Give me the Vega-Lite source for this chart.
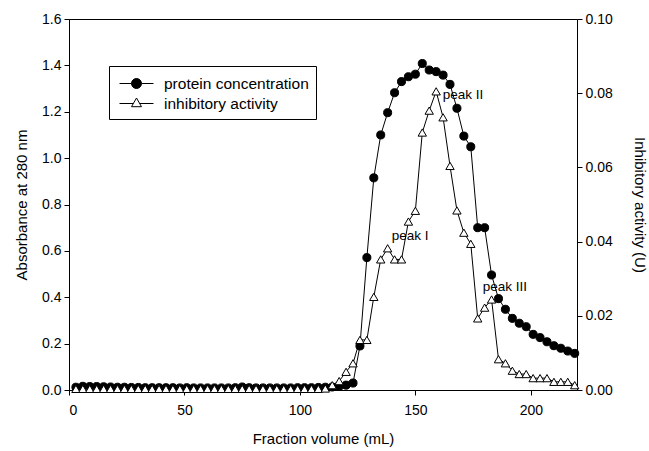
{
  "$schema": "https://vega.github.io/schema/vega-lite/v6.json",
  "autosize": "none",
  "width": 508,
  "height": 371,
  "padding": {"left": 69, "top": 19, "right": 72, "bottom": 61},
  "background": "white",
  "config": {
    "font": "Liberation Sans",
    "view": {"stroke": "black", "strokeWidth": 1},
    "axis": {"grid": false, "domainColor": "black", "tickColor": "black", "labelColor": "black", "titleColor": "black", "labelFontSize": 14, "titleFontSize": 15, "titleFontWeight": "normal", "tickSize": 5, "labelFont": "Liberation Sans", "titleFont": "Liberation Sans"}
  },
  "datasets": {
    "chrom": [
      {"vol": 3, "protein concentration": 0.012, "inhibitory activity": 0.0003},
      {"vol": 6, "protein concentration": 0.016, "inhibitory activity": 0.0003},
      {"vol": 9, "protein concentration": 0.015, "inhibitory activity": 0.0003},
      {"vol": 12, "protein concentration": 0.015, "inhibitory activity": 0.0003},
      {"vol": 15, "protein concentration": 0.014, "inhibitory activity": 0.0003},
      {"vol": 18, "protein concentration": 0.013, "inhibitory activity": 0.0003},
      {"vol": 21, "protein concentration": 0.012, "inhibitory activity": 0.0003},
      {"vol": 24, "protein concentration": 0.012, "inhibitory activity": 0.0003},
      {"vol": 27, "protein concentration": 0.011, "inhibitory activity": 0.0003},
      {"vol": 30, "protein concentration": 0.011, "inhibitory activity": 0.0003},
      {"vol": 33, "protein concentration": 0.010, "inhibitory activity": 0.0003},
      {"vol": 36, "protein concentration": 0.010, "inhibitory activity": 0.0003},
      {"vol": 39, "protein concentration": 0.010, "inhibitory activity": 0.0003},
      {"vol": 42, "protein concentration": 0.010, "inhibitory activity": 0.0003},
      {"vol": 45, "protein concentration": 0.010, "inhibitory activity": 0.0003},
      {"vol": 48, "protein concentration": 0.009, "inhibitory activity": 0.0003},
      {"vol": 51, "protein concentration": 0.010, "inhibitory activity": 0.0003},
      {"vol": 54, "protein concentration": 0.009, "inhibitory activity": 0.0003},
      {"vol": 57, "protein concentration": 0.009, "inhibitory activity": 0.0003},
      {"vol": 60, "protein concentration": 0.009, "inhibitory activity": 0.0003},
      {"vol": 63, "protein concentration": 0.009, "inhibitory activity": 0.0003},
      {"vol": 66, "protein concentration": 0.009, "inhibitory activity": 0.0003},
      {"vol": 69, "protein concentration": 0.009, "inhibitory activity": 0.0003},
      {"vol": 72, "protein concentration": 0.010, "inhibitory activity": 0.0003},
      {"vol": 75, "protein concentration": 0.013, "inhibitory activity": 0.0003},
      {"vol": 78, "protein concentration": 0.010, "inhibitory activity": 0.0003},
      {"vol": 81, "protein concentration": 0.009, "inhibitory activity": 0.0003},
      {"vol": 84, "protein concentration": 0.009, "inhibitory activity": 0.0003},
      {"vol": 87, "protein concentration": 0.009, "inhibitory activity": 0.0003},
      {"vol": 90, "protein concentration": 0.009, "inhibitory activity": 0.0003},
      {"vol": 93, "protein concentration": 0.009, "inhibitory activity": 0.0003},
      {"vol": 96, "protein concentration": 0.009, "inhibitory activity": 0.0003},
      {"vol": 99, "protein concentration": 0.010, "inhibitory activity": 0.0003},
      {"vol": 102, "protein concentration": 0.010, "inhibitory activity": 0.0003},
      {"vol": 105, "protein concentration": 0.010, "inhibitory activity": 0.0003},
      {"vol": 108, "protein concentration": 0.011, "inhibitory activity": 0.0003},
      {"vol": 111, "protein concentration": 0.012, "inhibitory activity": 0.0004},
      {"vol": 114, "protein concentration": 0.013, "inhibitory activity": 0.0013},
      {"vol": 117, "protein concentration": 0.015, "inhibitory activity": 0.0024},
      {"vol": 120, "protein concentration": 0.021, "inhibitory activity": 0.0049},
      {"vol": 123, "protein concentration": 0.030, "inhibitory activity": 0.0072},
      {"vol": 126, "protein concentration": 0.19, "inhibitory activity": 0.0135},
      {"vol": 129, "protein concentration": 0.571, "inhibitory activity": 0.0135},
      {"vol": 132, "protein concentration": 0.915, "inhibitory activity": 0.0251},
      {"vol": 135, "protein concentration": 1.10, "inhibitory activity": 0.0352},
      {"vol": 138, "protein concentration": 1.196, "inhibitory activity": 0.0382},
      {"vol": 141, "protein concentration": 1.282, "inhibitory activity": 0.0352},
      {"vol": 144, "protein concentration": 1.33, "inhibitory activity": 0.0352},
      {"vol": 147, "protein concentration": 1.351, "inhibitory activity": 0.0454},
      {"vol": 150, "protein concentration": 1.362, "inhibitory activity": 0.0483},
      {"vol": 153, "protein concentration": 1.408, "inhibitory activity": 0.0694},
      {"vol": 156, "protein concentration": 1.38, "inhibitory activity": 0.0753},
      {"vol": 159, "protein concentration": 1.373, "inhibitory activity": 0.0805},
      {"vol": 162, "protein concentration": 1.358, "inhibitory activity": 0.0735},
      {"vol": 165, "protein concentration": 1.318, "inhibitory activity": 0.0604},
      {"vol": 168, "protein concentration": 1.215, "inhibitory activity": 0.0484},
      {"vol": 171, "protein concentration": 1.095, "inhibitory activity": 0.0424},
      {"vol": 174, "protein concentration": 1.049, "inhibitory activity": 0.0394},
      {"vol": 177, "protein concentration": 0.700, "inhibitory activity": 0.0193},
      {"vol": 180, "protein concentration": 0.700, "inhibitory activity": 0.0222},
      {"vol": 183, "protein concentration": 0.496, "inhibitory activity": 0.0244},
      {"vol": 186, "protein concentration": 0.394, "inhibitory activity": 0.0083},
      {"vol": 189, "protein concentration": 0.348, "inhibitory activity": 0.0072},
      {"vol": 192, "protein concentration": 0.309, "inhibitory activity": 0.0052},
      {"vol": 195, "protein concentration": 0.288, "inhibitory activity": 0.0043},
      {"vol": 198, "protein concentration": 0.273, "inhibitory activity": 0.0043},
      {"vol": 201, "protein concentration": 0.240, "inhibitory activity": 0.0032},
      {"vol": 204, "protein concentration": 0.226, "inhibitory activity": 0.0032},
      {"vol": 207, "protein concentration": 0.208, "inhibitory activity": 0.0032},
      {"vol": 210, "protein concentration": 0.191, "inhibitory activity": 0.0022},
      {"vol": 213, "protein concentration": 0.180, "inhibitory activity": 0.0022},
      {"vol": 216, "protein concentration": 0.168, "inhibitory activity": 0.0022},
      {"vol": 219, "protein concentration": 0.158, "inhibitory activity": 0.0013}
    ],
    "peaks": [
      {"vol": 139.8, "value": 0.664, "label": "peak I"},
      {"vol": 161.9, "value": 1.272, "label": "peak II"},
      {"vol": 179.2, "value": 0.444, "label": "peak III"}
    ]
  },
  "layer": [
    {
      "layer": [
        {
          "data": {"name": "chrom"},
          "transform": [
            {"fold": ["protein concentration", "inhibitory activity"], "as": ["series", "value"]},
            {"filter": "datum.series === 'protein concentration'"}
          ],
          "mark": {"type": "line", "color": "black", "strokeWidth": 1},
          "encoding": {
            "x": {"field": "vol", "type": "quantitative", "scale": {"domain": [0, 220], "nice": false}, "axis": {"title": "Fraction volume (mL)", "values": [0, 50, 100, 150, 200], "labelPadding": 8, "titlePadding": 14}},
            "y": {"field": "value", "type": "quantitative", "scale": {"domain": [0, 1.6], "nice": false}, "axis": {"orient": "left", "title": "Absorbance at 280 nm", "values": [0, 0.2, 0.4, 0.6, 0.8, 1.0, 1.2, 1.4, 1.6], "format": ".1f", "labelPadding": 3, "titlePadding": 12}}
          }
        },
        {
          "data": {"name": "chrom"},
          "transform": [
            {"fold": ["protein concentration", "inhibitory activity"], "as": ["series", "value"]},
            {"filter": "datum.series === 'protein concentration'"}
          ],
          "mark": {"type": "point", "shape": "circle", "filled": true, "stroke": "black", "strokeWidth": 1, "size": 65, "opacity": 1},
          "encoding": {
            "x": {"field": "vol", "type": "quantitative"},
            "y": {"field": "value", "type": "quantitative"},
            "fill": {"field": "series", "type": "nominal", "scale": {"domain": ["protein concentration", "inhibitory activity"], "range": ["black", "white"]}, "legend": {
              "title": null, "orient": "none", "legendX": 40, "legendY": 47, "strokeColor": "black", "padding": 7,
              "labelFontSize": 15.5, "labelFont": "Liberation Sans", "labelColor": "black", "labelOffset": 27, "symbolSize": 400, "rowPadding": 1,
              "symbolStrokeColor": "black", "symbolStrokeWidth": 1,
              "encoding": {"symbols": {
                "shape": {"condition": {"test": "datum.value === 'protein concentration'", "value": "M-0.7,0H0.5M1.5,0H2.7M0.5,0A0.5,0.5,0,1,1,1.5,0A0.5,0.5,0,1,1,0.5,0Z"}, "value": "M-0.7,0H0.68M1.32,0H2.7M1,-0.55L1.5,0.32L0.5,0.32Z"},
                "stroke": {"value": "black"},
                "strokeWidth": {"value": 1},
                "opacity": {"value": 1}
              }}
            }}
          }
        },
        {
          "data": {"name": "peaks"},
          "mark": {"type": "text", "align": "left", "baseline": "middle", "fontSize": 13.5, "font": "Liberation Sans", "color": "black"},
          "encoding": {
            "x": {"field": "vol", "type": "quantitative"},
            "y": {"field": "value", "type": "quantitative"},
            "text": {"field": "label"}
          }
        }
      ]
    },
    {
      "layer": [
        {
          "data": {"name": "chrom"},
          "transform": [
            {"fold": ["protein concentration", "inhibitory activity"], "as": ["series", "value"]},
            {"filter": "datum.series === 'inhibitory activity'"}
          ],
          "mark": {"type": "line", "color": "black", "strokeWidth": 1},
          "encoding": {
            "x": {"field": "vol", "type": "quantitative"},
            "y": {"field": "value", "type": "quantitative", "scale": {"domain": [0, 0.1], "nice": false}, "axis": {"orient": "right", "title": "Inhibitory activity (U)", "values": [0, 0.02, 0.04, 0.06, 0.08, 0.1], "format": ".2f", "labelPadding": 3, "titlePadding": 19}}
          }
        },
        {
          "data": {"name": "chrom"},
          "transform": [
            {"fold": ["protein concentration", "inhibitory activity"], "as": ["series", "value"]},
            {"filter": "datum.series === 'inhibitory activity'"}
          ],
          "mark": {"type": "point", "shape": "triangle-up", "filled": true, "stroke": "black", "strokeWidth": 1, "size": 70, "opacity": 1},
          "encoding": {
            "x": {"field": "vol", "type": "quantitative"},
            "y": {"field": "value", "type": "quantitative"},
            "fill": {"field": "series", "type": "nominal"}
          }
        }
      ]
    }
  ],
  "resolve": {"scale": {"y": "independent"}}
}
